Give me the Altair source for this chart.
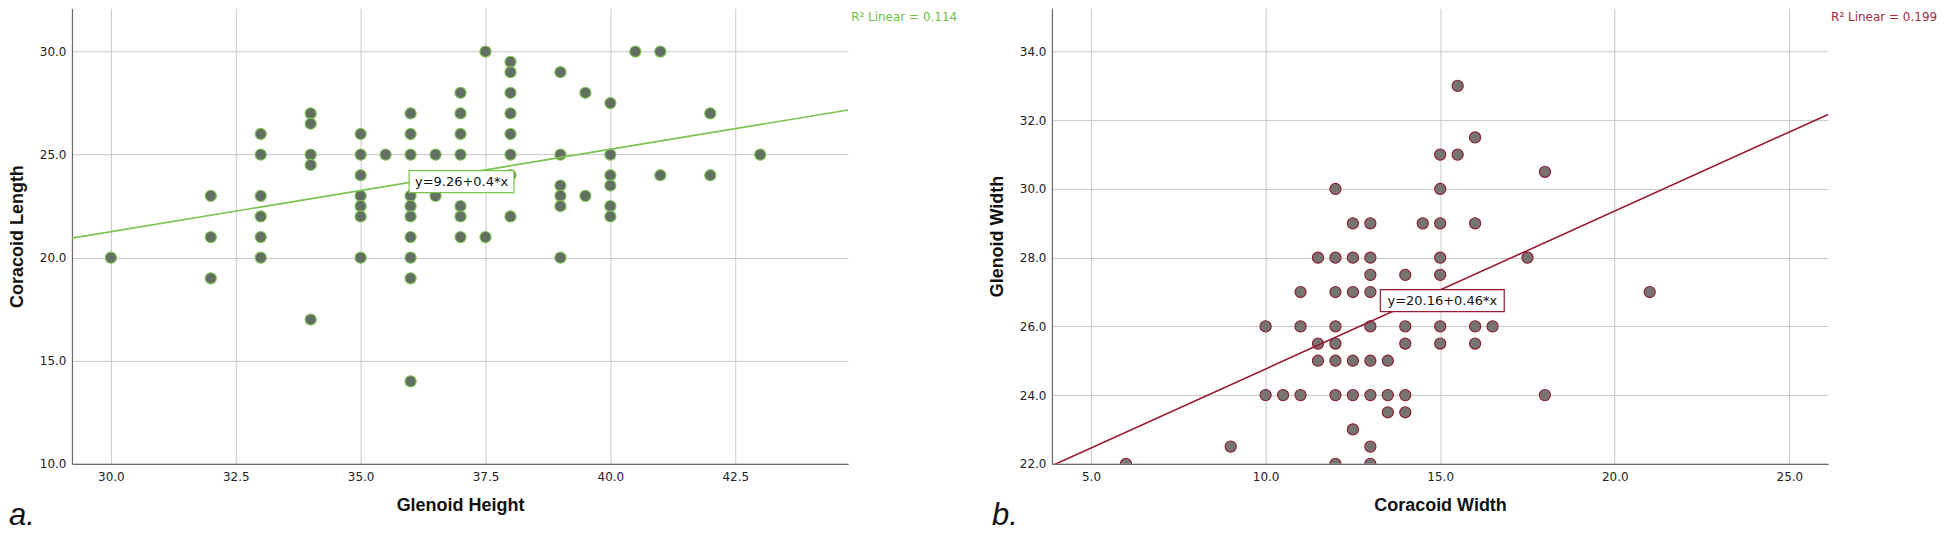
import altair as alt
import pandas as pd

# ---------------- Panel a: Glenoid Height vs Coracoid Length ----------------
a_glenoid_height = [
    30,
    32, 32, 32,
    33, 33, 33, 33, 33, 33,
    34, 34, 34, 34, 34,
    35, 35, 35, 35, 35, 35, 35,
    35.5,
    36, 36, 36, 36, 36, 36, 36, 36, 36, 36,
    36.5, 36.5, 36.5,
    37, 37, 37, 37, 37, 37, 37,
    37.5, 37.5,
    38, 38, 38, 38, 38, 38, 38, 38,
    39, 39, 39, 39, 39, 39,
    39.5, 39.5,
    40, 40, 40, 40, 40, 40,
    40.5,
    41, 41,
    42, 42,
    43,
]
a_coracoid_length = [
    20,
    23, 21, 19,
    26, 25, 23, 22, 21, 20,
    27, 26.5, 25, 24.5, 17,
    26, 25, 24, 23, 22.5, 22, 20,
    25,
    27, 26, 25, 23, 22.5, 22, 21, 20, 19, 14,
    25, 23.5, 23,
    28, 27, 26, 25, 22.5, 22, 21,
    30, 21,
    29.5, 29, 28, 27, 26, 25, 24, 22,
    29, 25, 23.5, 23, 22.5, 20,
    28, 23,
    27.5, 25, 24, 23.5, 22.5, 22,
    30,
    30, 24,
    27, 24,
    25,
]
a_x_domain = [29.22, 44.76]
a_y_domain = [10.0, 32.1]
a_x_ticks = [30.0, 32.5, 35.0, 37.5, 40.0, 42.5]
a_y_ticks = [10.0, 15.0, 20.0, 25.0, 30.0]
a_intercept, a_slope = 9.26, 0.4
a_eq_pos = [37.02, 23.69]
a_eq_text = "y=9.26+0.4*x"
a_r2_text = "R\u00b2 Linear = 0.114"

# ---------------- Panel b: Coracoid Width vs Glenoid Width ----------------
b_coracoid_width = [
    6,
    9,
    10, 10,
    10.5,
    11, 11, 11,
    11.5, 11.5, 11.5,
    12, 12, 12, 12, 12, 12, 12, 12,
    12.5, 12.5, 12.5, 12.5, 12.5, 12.5,
    13, 13, 13, 13, 13, 13, 13, 13, 13,
    13.5, 13.5, 13.5,
    14, 14, 14, 14, 14,
    14.5,
    15, 15, 15, 15, 15, 15, 15,
    15.5, 15.5,
    16, 16, 16, 16,
    16.5,
    17.5,
    18, 18,
    21,
]
b_glenoid_width = [
    22,
    22.5,
    26, 24,
    24,
    27, 26, 24,
    28, 25.5, 25,
    30, 28, 27, 26, 25.5, 25, 24, 22,
    29, 28, 27, 25, 24, 23,
    29, 28, 27.5, 27, 26, 25, 24, 22.5, 22,
    25, 24, 23.5,
    27.5, 26, 25.5, 24, 23.5,
    29,
    31, 30, 29, 28, 27.5, 26, 25.5,
    33, 31,
    31.5, 29, 26, 25.5,
    26,
    28,
    30.5, 24,
    27,
]
b_x_domain = [3.88, 26.11]
b_y_domain = [22.0, 35.26]
b_x_ticks = [5.0, 10.0, 15.0, 20.0, 25.0]
b_y_ticks = [22.0, 24.0, 26.0, 28.0, 30.0, 32.0, 34.0]
b_intercept, b_slope = 20.16, 0.46
b_eq_pos = [15.06, 26.75]
b_eq_text = "y=20.16+0.46*x"
b_r2_text = "R\u00b2 Linear = 0.199"

W, H = 777, 456


def panel(xs, ys, xdom, ydom, xticks, yticks, xtitle, ytitle,
          fill, stroke, line_color, text_color, intercept, slope,
          eq_pos, eq_text, eq_w, r2_text, letter, letter_dx, clip):
    pts = pd.DataFrame({"x": xs, "y": ys})
    line_df = pd.DataFrame({"x": xdom})
    eq_df = pd.DataFrame({"x": [eq_pos[0]], "y": [eq_pos[1]], "t": [eq_text]})
    r2_df = pd.DataFrame({"t": [r2_text]})
    let_df = pd.DataFrame({"t": [letter]})

    x_enc = alt.X("x:Q", scale=alt.Scale(domain=xdom, nice=False, zero=False),
                  axis=alt.Axis(values=xticks, format=".1f", title=xtitle))
    y_enc = alt.Y("y:Q", scale=alt.Scale(domain=ydom, nice=False, zero=False),
                  axis=alt.Axis(values=yticks, format=".1f", title=ytitle))

    points = alt.Chart(pts).mark_circle(
        size=125, fill=fill, stroke=stroke, strokeWidth=1.1, opacity=1, clip=clip
    ).encode(x=x_enc, y=y_enc)

    line = alt.Chart(line_df).transform_calculate(
        y=f"{intercept} + {slope} * datum.x"
    ).mark_line(color=line_color, strokeWidth=1.6, clip=True).encode(x=x_enc, y=y_enc)

    half_h = 11.0 / (eq_w / 2.0)
    box_path = f"M-1,-{half_h:.4f}L1,-{half_h:.4f}L1,{half_h:.4f}L-1,{half_h:.4f}Z"
    box = alt.Chart(eq_df).mark_point(
        shape=box_path, size=eq_w * eq_w, filled=True, fill="white",
        stroke=line_color, strokeWidth=1.2, opacity=1, strokeOpacity=1, fillOpacity=1
    ).encode(x=x_enc, y=y_enc)

    eq = alt.Chart(eq_df).mark_text(
        font="DejaVu Sans", fontSize=13, color="#111111", align="center", baseline="middle"
    ).encode(x=x_enc, y=y_enc, text="t:N")

    r2 = alt.Chart(r2_df).mark_text(
        font="DejaVu Sans", fontSize=12, color=text_color, align="left", baseline="middle"
    ).encode(x=alt.value(W + 3), y=alt.value(9), text="t:N")

    let = alt.Chart(let_df).mark_text(
        font="Liberation Sans", fontSize=31, fontStyle="italic", color="#111111",
        align="left", baseline="alphabetic"
    ).encode(x=alt.value(letter_dx), y=alt.value(H + 61), text="t:N")

    return alt.layer(points, line, box, eq, r2, let).properties(width=W, height=H)


pa = panel(a_glenoid_height, a_coracoid_length, a_x_domain, a_y_domain, a_x_ticks, a_y_ticks,
           "Glenoid Height", "Coracoid Length",
           "#636f63", "#80c455", "#78c44c", "#6fbf4a",
           a_intercept, a_slope, a_eq_pos, a_eq_text, 105, a_r2_text, "a.", -63, False)

pb = panel(b_coracoid_width, b_glenoid_width, b_x_domain, b_y_domain, b_x_ticks, b_y_ticks,
           "Coracoid Width", "Glenoid Width",
           "#767373", "#8e1a2c", "#9a1a30", "#a52a3e",
           b_intercept, b_slope, b_eq_pos, b_eq_text, 124, b_r2_text, "b.", -60, True)

chart = alt.hconcat(pa, pb, spacing=204, bounds="flush").properties(
    padding={"left": 0, "top": 0, "right": 0, "bottom": 0}
).configure_view(stroke=None).configure_axis(
    domainColor="#6a6a6a", domainWidth=1.2,
    gridColor="#c9c9c9", gridWidth=1,
    ticks=False, tickSize=0,
    labelFont="DejaVu Sans", labelFontSize=12, labelColor="#222222",
    titleFont="Liberation Sans", titleFontSize=18, titleFontWeight="bold", titleColor="#111111",
).configure_axisX(labelPadding=8, titlePadding=14).configure_axisY(labelPadding=6, titlePadding=13)

chart.save("out.html", embed_options={"renderer": "svg", "actions": False})
